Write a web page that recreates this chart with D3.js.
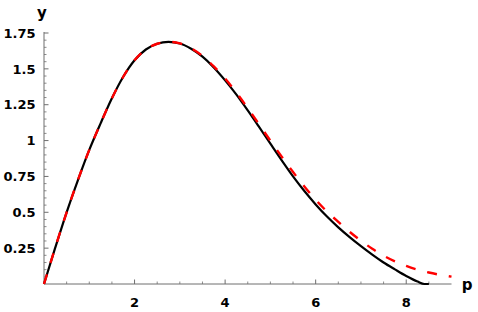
<!DOCTYPE html>
<html>
<head>
<meta charset="utf-8">
<script src="https://cdn.jsdelivr.net/npm/d3@7"></script>
<style>
  html, body { margin: 0; padding: 0; background: #fff; }
  svg text { font-family: "DejaVu Sans", sans-serif; font-weight: bold; fill: #000; }
</style>
</head>
<body>
<svg id="chart" width="478" height="312"></svg>
<script>
// ---- data ----
const pBlack = [0, 0.25, 0.5, 0.75, 1.0, 1.25, 1.5, 1.75, 2.0, 2.25, 2.5, 2.75, 3.0, 3.25, 3.5, 3.75,
  4.0, 4.25, 4.5, 4.75, 5.0, 5.25, 5.5, 5.75, 6.0, 6.25, 6.5, 6.75, 7.0, 7.25, 7.5, 7.75, 8.0, 8.25, 8.4, 8.5];
const yBlack = [0, 0.255, 0.50, 0.725, 0.935, 1.12, 1.295, 1.445, 1.56, 1.635, 1.675, 1.688, 1.677, 1.64, 1.585, 1.51,
  1.42, 1.32, 1.21, 1.095, 0.978, 0.862, 0.75, 0.648, 0.555, 0.47, 0.395, 0.327, 0.264, 0.205, 0.15, 0.102, 0.056, 0.017, 0, 0];

const pRed = [0, 0.25, 0.5, 0.75, 1.0, 1.25, 1.5, 1.75, 2.0, 2.25, 2.5, 2.75, 3.0, 3.25, 3.5, 3.75,
  4.0, 4.25, 4.5, 4.75, 5.0, 5.25, 5.5, 5.75, 6.0, 6.25, 6.5, 6.75, 7.0, 7.25, 7.5, 7.75, 8.0, 8.25, 8.5, 8.75, 9.0];
const yRed = [0, 0.255, 0.50, 0.725, 0.935, 1.12, 1.295, 1.445, 1.56, 1.635, 1.675, 1.688, 1.678, 1.643, 1.59, 1.517,
  1.432, 1.334, 1.226, 1.113, 0.999, 0.888, 0.781, 0.68, 0.587, 0.505, 0.433, 0.364, 0.302, 0.246, 0.198, 0.158, 0.126, 0.10, 0.08, 0.064, 0.051];

const xMajorTicks = [2, 4, 6, 8];
const xMajorLabels = ["2", "4", "6", "8"];
const yMajorTicks = [0.25, 0.5, 0.75, 1, 1.25, 1.5, 1.75];
const yMajorLabels = ["0.25", "0.5", "0.75", "1", "1.25", "1.5", "1.75"];
const xMinorTicks = [0.5, 1, 1.5, 2.5, 3, 3.5, 4.5, 5, 5.5, 6.5, 7, 7.5, 8.5];
const yMinorTicks = [0.05, 0.1, 0.15, 0.2, 0.3, 0.35, 0.4, 0.45, 0.55, 0.6, 0.65, 0.7, 0.8, 0.85, 0.9, 0.95,
  1.05, 1.1, 1.15, 1.2, 1.3, 1.35, 1.4, 1.45, 1.55, 1.6, 1.65, 1.7];
const xAxisTitle = "p";
const yAxisTitle = "y";

// ---- layout ----
const svg = d3.select("#chart");
const x = d3.scaleLinear().domain([0, 9]).range([44, 451.5]);
const y = d3.scaleLinear().domain([0, 1.75]).range([284, 33]);
const axisColor = "#6e6e6e";

// axes lines
svg.append("line").attr("x1", x(0)).attr("x2", x(9)).attr("y1", y(0)).attr("y2", y(0))
  .attr("stroke", axisColor).attr("stroke-width", 1);
svg.append("line").attr("x1", x(0)).attr("x2", x(0)).attr("y1", y(0)).attr("y2", y(1.757))
  .attr("stroke", axisColor).attr("stroke-width", 1);

// x ticks
svg.append("g").selectAll("line.xmaj").data(xMajorTicks).enter().append("line")
  .attr("x1", d => x(d)).attr("x2", d => x(d)).attr("y1", y(0)).attr("y2", y(0) - 4.5)
  .attr("stroke", axisColor).attr("stroke-width", 1);
svg.append("g").selectAll("line.xmin").data(xMinorTicks).enter().append("line")
  .attr("x1", d => x(d)).attr("x2", d => x(d)).attr("y1", y(0)).attr("y2", y(0) - 2.5)
  .attr("stroke", axisColor).attr("stroke-width", 0.8);
svg.append("g").selectAll("text").data(xMajorTicks).enter().append("text")
  .attr("x", d => x(d)).attr("y", 306.5).attr("text-anchor", "middle")
  .attr("font-size", 13).text((d, i) => xMajorLabels[i]);

// y ticks
svg.append("g").selectAll("line").data(yMajorTicks).enter().append("line")
  .attr("x1", x(0)).attr("x2", x(0) + 4.5).attr("y1", d => y(d)).attr("y2", d => y(d))
  .attr("stroke", axisColor).attr("stroke-width", 1);
svg.append("g").selectAll("line").data(yMinorTicks).enter().append("line")
  .attr("x1", x(0)).attr("x2", x(0) + 2.5).attr("y1", d => y(d)).attr("y2", d => y(d))
  .attr("stroke", axisColor).attr("stroke-width", 0.8);
svg.append("g").selectAll("text").data(yMajorTicks).enter().append("text")
  .attr("x", 35.5).attr("y", d => y(d)).attr("dy", "0.36em").attr("text-anchor", "end")
  .attr("font-size", 13).text((d, i) => yMajorLabels[i]);

// axis titles
svg.append("text").attr("x", 42).attr("y", 18).attr("text-anchor", "middle")
  .attr("font-size", 15).text(yAxisTitle);
svg.append("text").attr("x", 467).attr("y", 290).attr("text-anchor", "middle")
  .attr("font-size", 15).text(xAxisTitle);

// curves
const line = d3.line().x(d => x(d[0])).y(d => y(d[1])).curve(d3.curveMonotoneX);
svg.append("path").datum(pBlack.map((p, i) => [p, yBlack[i]]))
  .attr("d", line).attr("fill", "none").attr("stroke", "#000").attr("stroke-width", 2.2);
svg.append("path").datum(pRed.map((p, i) => [p, yRed[i]]))
  .attr("d", line).attr("fill", "none").attr("stroke", "#ff0000").attr("stroke-width", 2.4)
  .attr("stroke-dasharray", "10,12");
</script>
</body>
</html>
